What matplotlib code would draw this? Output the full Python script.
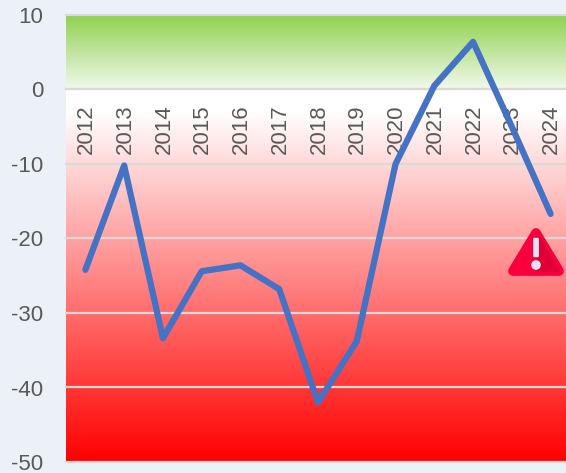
import numpy as np
import matplotlib
matplotlib.use("Agg")
import matplotlib.pyplot as plt
from matplotlib.colors import LinearSegmentedColormap
from matplotlib.patches import Polygon, Circle, FancyBboxPatch

years = [2012, 2013, 2014, 2015, 2016, 2017, 2018, 2019, 2020, 2021, 2022, 2023, 2024]
values = [-24.2, -10.2, -33.4, -24.4, -23.6, -26.8, -42.0, -33.8, -10.0, 0.5, 6.4, -5.0, -16.7]
y_ticks = [10, 0, -10, -20, -30, -40, -50]

plt.rcParams['font.family'] = ['Liberation Sans', 'DejaVu Sans']

W, H = 566, 473
fig = plt.figure(figsize=(W / 100, H / 100), dpi=100, facecolor='#ecf1f8')
# the plot area runs a little past the right edge of the picture
ax = fig.add_axes([66 / W, 1 - 462 / H, 504 / W, 447 / H])
ax.set_xlim(-0.5, 12.5)
ax.set_ylim(-50, 10)

# background gradient, top to bottom
stops = [(0.0, '#8fd14f'), (1 / 6, '#f2f9ec'), (0.172, '#ffffff'), (13 / 60, '#ffffff'),
         (1.0, '#ff0000')]
cmap = LinearSegmentedColormap.from_list('bg', stops, N=512)
grad = np.linspace(0, 1, 447).reshape(-1, 1)
ax.imshow(grad, cmap=cmap, aspect='auto', extent=(-0.5, 12.5, -50, 10), zorder=0)

for y in y_ticks:
    ax.axhline(y, color='#d9d9d9', lw=1.6, zorder=1, clip_on=False)

ax.plot(range(len(years)), values, color='#4472c4', lw=4.5, zorder=3,
        solid_capstyle='round', solid_joinstyle='round')

for i, yr in enumerate(years):
    ax.annotate(str(yr), xy=(i, -8.6), xytext=(0.7, 0), textcoords='offset points', rotation=90,
                ha='center', va='bottom', fontsize=16, color='#595959', zorder=2)

for s in ax.spines.values():
    s.set_visible(False)
ax.set_xticks([])
ax.set_yticks(y_ticks)
ax.set_yticklabels([str(t) for t in y_ticks], fontsize=16, color='#595959')
ax.tick_params(axis='y', length=0, pad=16.5)

# warning sign, drawn in pixel coordinates of the figure
ov = fig.add_axes([0, 0, 1, 1], facecolor='none')
ov.set_xlim(0, W)
ov.set_ylim(H, 0)
ov.axis('off')
ov.add_patch(Polygon([[536, 233], [513, 271], [559, 271]], closed=True, facecolor='#f7003c',
                     edgecolor='#f7003c', lw=7, joinstyle='round'))
ov.add_patch(Polygon([[537, 233], [559, 271], [537, 271]], closed=True, facecolor='#e00035',
                     edgecolor='#e00035', lw=1))
ov.add_patch(FancyBboxPatch((534.3, 239), 3.4, 17, boxstyle='round,pad=1.2',
                            facecolor='#dfe3f8', edgecolor='none'))
ov.add_patch(Circle((536, 265), 4.8, facecolor='#dfe3f8', edgecolor='none'))

fig.savefig('out.png', dpi=100, facecolor=fig.get_facecolor())
